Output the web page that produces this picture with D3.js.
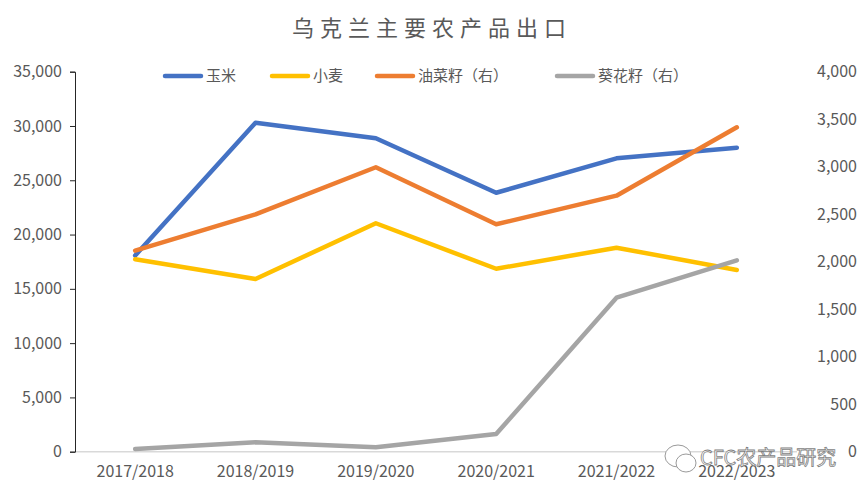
<!DOCTYPE html>
<html>
<head>
<meta charset="utf-8">
<script src="https://cdn.jsdelivr.net/npm/d3@7"></script>
<style>
	body { margin: 0; background: #fff; }
	text { font-family: "Noto Sans CJK SC", "DejaVu Sans", sans-serif; }
</style>
</head>
<body>
<div id="chart"></div>
<script>
const years = ["2017/2018", "2018/2019", "2019/2020", "2020/2021", "2021/2022", "2022/2023"];
const corn = [18070, 30300, 28870, 23850, 27020, 28000];
const wheat = [17720, 15910, 21040, 16850, 18790, 16740];
const rapeseed = [2116, 2499, 2994, 2394, 2695, 3415];
const sunflower = [28, 99, 46, 186, 1621, 2015];
const leftTicks = [0, 5000, 10000, 15000, 20000, 25000, 30000, 35000];
const rightTicks = [0, 500, 1000, 1500, 2000, 2500, 3000, 3500, 4000];

const series = [
	{name: "玉米", values: corn, axis: "left", color: "#4472C4"},
	{name: "小麦", values: wheat, axis: "left", color: "#FFC000"},
	{name: "油菜籽（右）", values: rapeseed, axis: "right", color: "#ED7D31"},
	{name: "葵花籽（右）", values: sunflower, axis: "right", color: "#A5A5A5"}
];

const width = 865, height = 498;
const margin = {top: 71.7, right: 68, bottom: 46.3, left: 75};
const labelColor = "#595959";

const svg = d3.select("#chart").append("svg")
	.attr("width", width)
	.attr("height", height);

let x = d3.scaleBand().domain(years).range([margin.left, width - margin.right]);
let yLeft = d3.scaleLinear().domain([0, 35000]).range([height - margin.bottom, margin.top]);
let yRight = d3.scaleLinear().domain([0, 4000]).range([height - margin.bottom, margin.top]);

// title
svg.append("text")
	.attr("x", 432)
	.attr("y", 36)
	.attr("text-anchor", "middle")
	.style("font-size", "22px")
	.style("letter-spacing", "6px")
	.style("fill", labelColor)
	.text("乌克兰主要农产品出口");

// bottom axis line
svg.append("line")
	.attr("x1", margin.left)
	.attr("x2", width - margin.right)
	.attr("y1", yLeft(0))
	.attr("y2", yLeft(0))
	.style("stroke", "#d9d9d9")
	.style("stroke-width", 1.5);

// left axis
let leftAxis = svg.append("g")
	.attr("transform", "translate(" + margin.left + ",0)")
	.call(d3.axisLeft(yLeft).tickValues(leftTicks).tickSize(5).tickPadding(8).tickFormat(d3.format(",")));
leftAxis.select(".domain").style("stroke", "#262626");
leftAxis.selectAll(".tick line").style("stroke", "#262626");
leftAxis.selectAll("text").style("font-size", "16px").style("fill", labelColor).style("font-family", "\"Noto Sans CJK SC\", sans-serif");

// right axis (labels only)
let rightAxis = svg.append("g")
	.attr("transform", "translate(" + (width - 8) + ",0)")
	.call(d3.axisLeft(yRight).tickValues(rightTicks).tickSize(0).tickPadding(0).tickFormat(d3.format(",")));
rightAxis.select(".domain").remove();
rightAxis.selectAll("text").style("font-size", "16px").style("fill", labelColor).style("font-family", "\"Noto Sans CJK SC\", sans-serif");

// category labels
let bottomAxis = svg.append("g")
	.attr("transform", "translate(0," + yLeft(0) + ")")
	.call(d3.axisBottom(x).tickSize(0).tickPadding(14));
bottomAxis.select(".domain").remove();
bottomAxis.selectAll("text").style("font-size", "16px").style("fill", labelColor).style("font-family", "\"Noto Sans CJK SC\", sans-serif");

// lines
series.forEach(s => {
	let y = s.axis === "left" ? yLeft : yRight;
	let line = d3.line()
		.x((d, i) => x(years[i]) + x.bandwidth() / 2)
		.y(d => y(d));
	svg.append("path")
		.attr("d", line(s.values))
		.style("fill", "none")
		.style("stroke", s.color)
		.style("stroke-width", 4.5)
		.style("stroke-linejoin", "round")
		.style("stroke-linecap", "round");
});

// legend
const legendX = [163, 270, 375, 555];
const legendY = 76;
let legend = svg.append("g");
series.forEach((s, i) => {
	legend.append("line")
		.attr("x1", legendX[i] + 2)
		.attr("x2", legendX[i] + 38)
		.attr("y1", legendY)
		.attr("y2", legendY)
		.style("stroke", s.color)
		.style("stroke-width", 4.5)
		.style("stroke-linecap", "round");
	legend.append("text")
		.attr("x", legendX[i] + 43)
		.attr("y", legendY)
		.attr("dy", "0.35em")
		.style("font-size", "15px")
		.style("fill", labelColor)
		.text(s.name);
});

// watermark
let wm = svg.append("g").attr("transform", "translate(678,458)");
wm.append("ellipse").attr("cx", 0).attr("cy", -2).attr("rx", 13).attr("ry", 11)
	.style("fill", "#fff").style("stroke", "#9a9a9a").style("stroke-width", 1);
wm.append("ellipse").attr("cx", 8).attr("cy", 5).attr("rx", 10).attr("ry", 9)
	.style("fill", "#fff").style("stroke", "#9a9a9a").style("stroke-width", 1);
wm.append("text")
	.attr("x", 22)
	.attr("y", 0)
	.attr("dy", "0.35em")
	.style("font-size", "20px")
	.style("fill", "#fff")
	.style("stroke", "#7f7f7f")
	.style("stroke-width", 0.8)
	.text("CFC农产品研究");
</script>
</body>
</html>
